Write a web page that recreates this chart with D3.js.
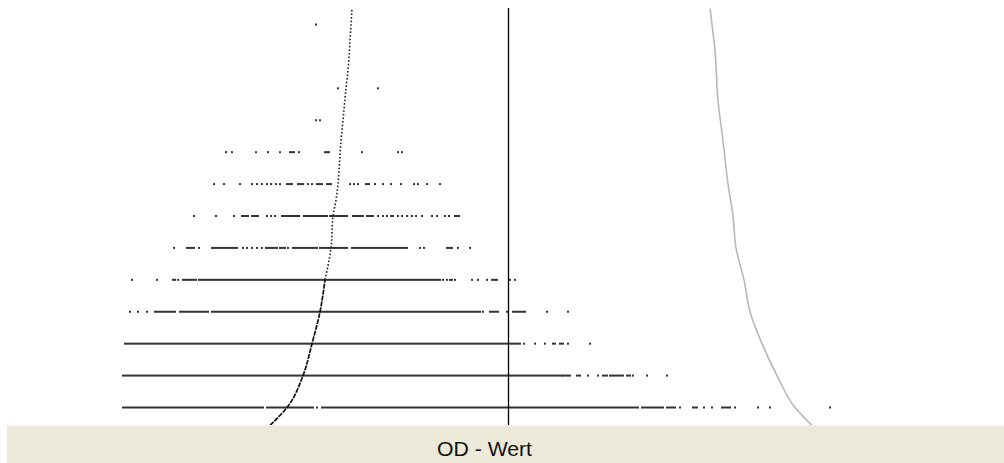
<!DOCTYPE html>
<html>
<head>
<meta charset="utf-8">
<script src="https://cdn.jsdelivr.net/npm/d3@7"></script>
<style>
  body { margin: 0; background: #fff; }
  svg { display: block; }
</style>
</head>
<body>
<svg id="chart" width="1004" height="463"></svg>
<script>
const svg = d3.select("#chart"),
    width = +svg.attr("width"),
    height = +svg.attr("height");

// OD values per row (single number = one point, pair = dense run of points)
const row0 = [[1.23, 2.63], [2.67, 3.13], 3.17, [3.22, 6.38], [6.42, 6.63], [6.67, 6.75], 6.80, [6.93, 6.97], 7.04, 7.12, [7.22, 7.30], 7.35, 7.58, 7.70, 8.30];
const row1 = [[1.23, 5.62], [5.63, 5.70], [5.77, 5.80], 5.88, 5.98, [6.03, 6.07], [6.10, 6.23], [6.27, 6.30], 6.33, 6.47, 6.67];
const row2 = [[1.25, 4.95], [4.97, 5.20], 5.24, 5.35, 5.45, [5.53, 5.55], [5.60, 5.63], 5.68, 5.90];
const row3 = [1.30, 1.38, 1.47, [1.55, 1.75], [1.80, 2.08], [2.12, 4.63], [4.65, 4.80], 4.83, [4.90, 4.98], 5.07, [5.13, 5.25], 5.47, 5.68];
const row4 = [1.32, 1.57, [1.73, 1.75], 1.78, [1.83, 1.96], [1.99, 2.12], [2.14, 2.26], [2.28, 2.41], [2.43, 4.40], 4.43, 4.47, [4.50, 4.52], 4.55, 4.72, 4.78, 4.87, [4.92, 4.97], 5.10, 5.15];
const row5 = [1.74, [1.87, 1.94], 1.99, [2.12, 2.37], 2.43, 2.47, 2.52, 2.57, 2.62, [2.66, 2.77], [2.80, 2.85], 2.88, [2.93, 2.98], [3.00, 3.17], [3.20, 3.47], [3.52, 4.07], 4.20, 4.24, [4.47, 4.52], 4.58, 4.70];
const row6 = [1.94, 2.16, 2.34, [2.42, 2.48], [2.52, 2.58], 2.67, 2.71, 2.75, [2.82, 2.97], 2.99, [3.04, 3.27], [3.30, 3.47], [3.53, 3.63], [3.67, 3.73], 3.78, 3.83, 3.87, 3.91, 3.93, 3.98, 4.02, 4.07, 4.12, 4.16, 4.22, 4.32, 4.37, 4.45, 4.49, [4.55, 4.59]];
const row7 = [2.14, 2.24, 2.40, 2.52, 2.57, 2.62, 2.67, 2.71, 2.76, 2.80, [2.87, 2.92], [2.98, 3.03], 3.08, 3.12, [3.17, 3.22], [3.27, 3.31], 3.50, 3.54, 3.58, [3.66, 3.69], 3.75, 3.83, 3.91, 4.01, 4.14, 4.18, 4.27, 4.40];
const row8 = [2.26, 2.32, 2.56, 2.68, 2.80, [2.90, 2.94], 2.99, [3.25, 3.29], 3.62, 3.98, 4.02];
const row9 = [3.16, 3.20];
const row10 = [3.38, 3.78];
const row11 = [];
const row12 = [3.16];
const rows = [row0, row1, row2, row3, row4, row5, row6, row7, row8, row9, row10, row11, row12];

// density curve (black) and reference curve (grey): [OD, level]
const curveBlack = [[2.70, -0.56], [2.87, 0], [3.03, 1], [3.12, 2], [3.20, 3], [3.25, 4], [3.31, 5], [3.33, 6], [3.36, 6.5], [3.38, 7], [3.39, 7.42], [3.41, 8.36], [3.43, 9], [3.46, 10], [3.48, 10.56], [3.50, 11.5], [3.52, 12.5]];
const curveGrey = [[8.12, -0.56], [7.95, 0], [7.77, 1], [7.62, 2], [7.50, 3], [7.44, 4], [7.36, 5], [7.33, 6], [7.28, 7], [7.23, 8.36], [7.18, 9.62], [7.15, 11.18], [7.10, 12.5]];
const cutoff = 5.085;
const xLabel = "OD - Wert";

let plotTop = 8, plotBottom = 425;

let x = d3.scaleLinear().domain([0, 10]).range([0, 1000]);
let y = d3.scaleLinear().domain([0, 12]).range([407.5, 24.5]);

svg.append("rect").attr("width", width).attr("height", height).attr("fill", "#fff");

svg.append("defs").append("clipPath").attr("id", "plotclip")
    .append("rect").attr("x", 0).attr("y", plotTop).attr("width", width).attr("height", plotBottom - plotTop);

let plot = svg.append("g").attr("clip-path", "url(#plotclip)");

// points
let items = [];
rows.forEach(function (r, i) {
    r.forEach(function (v) {
        let a = Array.isArray(v) ? v[0] : v;
        let b = Array.isArray(v) ? v[1] : v;
        items.push({level: i, a: a, b: b});
    });
});

plot.append("g")
    .selectAll("rect")
    .data(items)
    .enter()
    .append("rect")
    .attr("x", d => x(d.a) - 1)
    .attr("y", d => y(d.level) - 1)
    .attr("width", d => Math.max(2, x(d.b) - x(d.a) + 2))
    .attr("height", 2)
    .attr("fill", "#333");

// cutoff line
plot.append("line")
    .attr("x1", x(cutoff)).attr("x2", x(cutoff))
    .attr("y1", plotTop).attr("y2", plotBottom)
    .style("stroke", "#000")
    .style("stroke-width", 1.3);

let line = d3.line()
    .x(d => x(d[0]))
    .y(d => y(d[1]))
    .curve(d3.curveMonotoneY);

// grey curve
plot.append("path")
    .attr("d", line(curveGrey))
    .attr("fill", "none")
    .style("stroke", "#b8b8b8")
    .style("stroke-width", 1.6);

// black curve: solid at the bottom, dotted further up
let lower = curveBlack.filter(d => d[1] <= 4);
let upper = curveBlack.filter(d => d[1] >= 4);

plot.append("path")
    .attr("d", line(lower))
    .attr("fill", "none")
    .style("stroke", "#111")
    .style("stroke-width", 1.7)
    .style("stroke-dasharray", "5,1");

plot.append("path")
    .attr("d", line(upper))
    .attr("fill", "none")
    .style("stroke", "#222")
    .style("stroke-width", 1.6)
    .style("stroke-dasharray", "1.6,2");

// bottom bar with axis title
svg.append("rect")
    .attr("x", 7).attr("y", plotBottom)
    .attr("width", width - 7).attr("height", height - plotBottom)
    .attr("fill", "#ece9d8");

svg.append("line")
    .attr("x1", 7).attr("x2", width)
    .attr("y1", plotBottom + 0.5).attr("y2", plotBottom + 0.5)
    .style("stroke", "#f4f2e8");

svg.append("text")
    .attr("x", 437)
    .attr("y", 456)
    .attr("textLength", 95)
    .attr("lengthAdjust", "spacingAndGlyphs")
    .style("font-family", "'Liberation Sans', Arial, sans-serif")
    .style("font-size", "21px")
    .style("fill", "#111")
    .text(xLabel);
</script>
</body>
</html>
